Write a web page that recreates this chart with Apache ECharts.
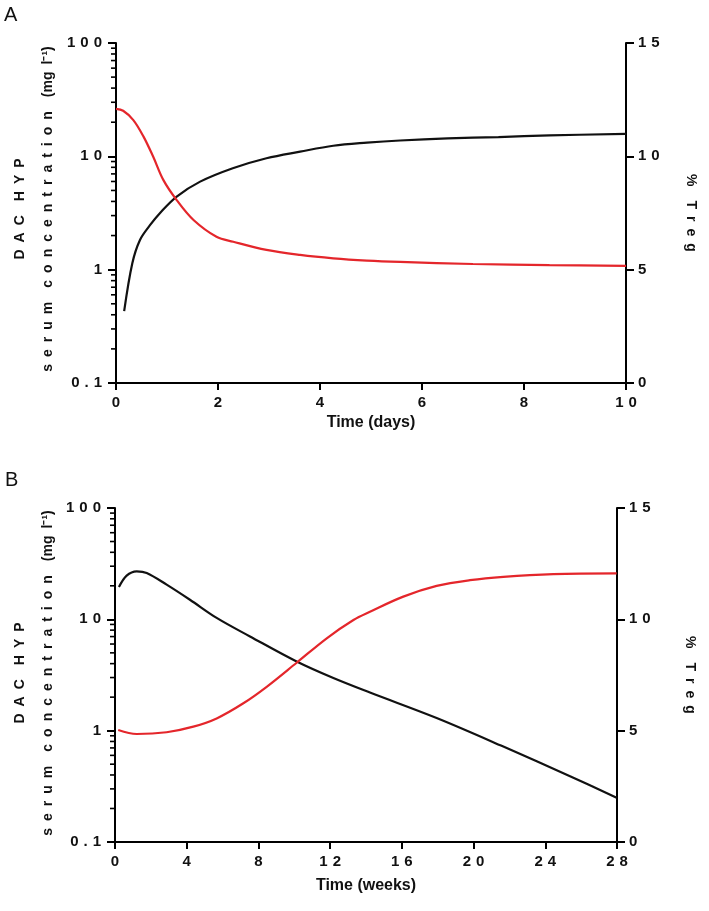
<!DOCTYPE html>
<html>
<head>
<meta charset="utf-8">
<script src="https://cdn.jsdelivr.net/npm/echarts@6/dist/echarts.min.js"></script>
<style>
html,body{margin:0;padding:0;background:#fff;}
#c{width:709px;height:911px;}
</style>
</head>
<body>
<div id="c"></div>
<script>
// ---- Panel A (days) ----
const daysBlack = [0.16, 0.32, 0.47, 0.67, 0.86, 1.19, 1.65, 2.29, 2.95, 3.61, 4.26, 4.92, 5.57, 6.5, 7.5, 8.5, 10];
const concA     = [0.43, 1.14, 1.83, 2.48, 3.15, 4.41, 5.98, 7.85, 9.62, 11.0, 12.4, 13.2, 13.8, 14.4, 14.8, 15.3, 15.8];
const daysRed   = [0, 0.14, 0.34, 0.54, 0.73, 0.93, 1.19, 1.52, 1.97, 2.3, 2.95, 3.61, 4.26, 4.92, 5.57, 7, 8.5, 10];
const tregA     = [12.09, 12.01, 11.6, 10.87, 9.98, 8.95, 8.07, 7.19, 6.45, 6.23, 5.87, 5.65, 5.5, 5.4, 5.34, 5.25, 5.2, 5.17];

// ---- Panel B (weeks) ----
const weeksBlack = [0.22, 0.65, 1.21, 1.77, 2.88, 4.18, 5.67, 7.53, 10.13, 12.18, 14.22, 17.94, 21.66, 25.38, 27.98];
const concB      = [19.5, 24.7, 27.0, 26.1, 20.5, 15.0, 10.3, 7.02, 4.18, 2.97, 2.2, 1.3, 0.72, 0.39, 0.25];
const weeksRed   = [0.18, 1.21, 2.88, 4.37, 5.67, 7.16, 8.46, 10.13, 11.81, 13.3, 14.22, 16.08, 17.94, 19.8, 21.66, 24.45, 27.98];
const tregB      = [5.03, 4.85, 4.93, 5.18, 5.55, 6.23, 6.97, 8.05, 9.15, 9.97, 10.34, 11.02, 11.5, 11.76, 11.91, 12.03, 12.06];

// ---- axis text ----
const panelLabels = ['A', 'B'];
const xNames = ['Time (days)', 'Time (weeks)'];
const leftName = 'D A C  H Y P\ns e r u m  c o n c e n t r a t i o n  (mg l⁻¹)';
const rightName = '%  T r e g';
const logMin = 0.1, logMax = 100;
const minorMults = [2, 3, 4, 5, 6, 7, 8, 9];
const minorTickValues = [];
[0.1, 1, 10].forEach(d => minorMults.forEach(m => minorTickValues.push(+(d * m).toPrecision(3))));

const FONT = '"Liberation Sans Narrow", "Liberation Sans", Arial, sans-serif';
const SP = '\u2002';
const TSP = '\u2004';
function spaced(s) { return String(s).split('').join(TSP); }
function spacedName(s) { return s.replace(/ /g, SP); }
function zip(xs, ys) { return xs.map((x, i) => [x, ys[i]]); }

const RED = '#e4262b', BLACK = '#111';

function xAxisCfg(gi, max, interval, name, gap) {
  return {
    type: 'value', gridIndex: gi, min: 0, max: max, interval: interval,
    name: name, nameLocation: 'middle', nameGap: gap,
    nameTextStyle: { fontFamily: FONT, fontWeight: 'bold', fontSize: 16, color: '#111' },
    axisLine: { onZero: false, lineStyle: { color: '#000', width: 2 } },
    axisTick: { length: 7, lineStyle: { color: '#000', width: 2 } },
    axisLabel: { margin: 12, fontFamily: FONT, fontWeight: 'bold', fontSize: 15, color: '#111',
      formatter: v => spaced(v) },
    splitLine: { show: false }
  };
}
function leftAxisCfg(gi) {
  return {
    type: 'log', logBase: 10, gridIndex: gi, min: logMin, max: logMax,
    axisLine: { show: true, lineStyle: { color: '#000', width: 2 } },
    axisTick: { length: 8, lineStyle: { color: '#000', width: 2 } },
    axisLabel: { margin: 14, fontFamily: FONT, fontWeight: 'bold', fontSize: 15, color: '#111',
      formatter: v => spaced(parseFloat(Number(v).toPrecision(4))) },
    splitLine: { show: false }
  };
}
function rightAxisCfg(gi, gap) {
  return {
    type: 'value', gridIndex: gi, position: 'right', min: 0, max: 15, interval: 5,
    name: spacedName(rightName), nameLocation: 'middle', nameGap: gap, nameRotate: -90,
    nameTextStyle: { fontFamily: FONT, fontWeight: 'bold', fontSize: 14, color: '#111' },
    axisLine: { show: true, lineStyle: { color: '#000', width: 2 } },
    axisTick: { length: 8, lineStyle: { color: '#000', width: 2 } },
    axisLabel: { margin: 12, fontFamily: FONT, fontWeight: 'bold', fontSize: 15, color: '#111',
      formatter: v => spaced(v) },
    splitLine: { show: false }
  };
}
function minorTickSeries(xi, yi) {
  return {
    type: 'custom', xAxisIndex: xi, yAxisIndex: yi, clip: false, silent: true, z: 5,
    data: minorTickValues.map(v => [0, v]),
    renderItem: function (params, api) {
      const p = api.coord([api.value(0), api.value(1)]);
      return { type: 'line', shape: { x1: p[0] - 5, y1: p[1], x2: p[0], y2: p[1] },
        style: { stroke: '#000', lineWidth: 1.6 } };
    }
  };
}
function lineSeries(xi, yi, data, color) {
  return {
    type: 'line', xAxisIndex: xi, yAxisIndex: yi, data: data, smooth: 0.35,
    showSymbol: false, symbol: 'none', z: 3,
    lineStyle: { color: color, width: 2.2 }
  };
}
function leftNameGraphic(cx, cy) {
  return { type: 'text', x: cx, y: cy, rotation: Math.PI / 2,
    style: { text: spacedName(leftName), fontFamily: FONT, fontWeight: 'bold', fontSize: 14,
      fill: '#111', lineHeight: 28, align: 'center', verticalAlign: 'middle' } };
}

const chart = echarts.init(document.getElementById('c'), null, { renderer: 'canvas' });
chart.setOption({
  backgroundColor: '#fff',
  animation: false,
  graphic: [
    { type: 'text', left: 4, top: 5, style: { text: panelLabels[0], fontFamily: '"Liberation Sans", Arial', fontSize: 20, fill: '#111' } },
    { type: 'text', left: 5, top: 470, style: { text: panelLabels[1], fontFamily: '"Liberation Sans", Arial', fontSize: 20, fill: '#111' } },
    leftNameGraphic(34, 209),
    leftNameGraphic(34, 673)
  ],
  grid: [
    { left: 116, top: 43, width: 510, height: 340, containLabel: false, outerBoundsMode: 'none' },
    { left: 115, top: 508, width: 502, height: 334, containLabel: false, outerBoundsMode: 'none' }
  ],
  xAxis: [
    xAxisCfg(0, 10, 2, xNames[0], 32),
    xAxisCfg(1, 28, 4, xNames[1], 36)
  ],
  yAxis: [
    leftAxisCfg(0),
    rightAxisCfg(0, 58),
    leftAxisCfg(1),
    rightAxisCfg(1, 66)
  ],
  series: [
    lineSeries(0, 0, zip(daysBlack, concA), BLACK),
    lineSeries(0, 1, zip(daysRed, tregA), RED),
    lineSeries(1, 2, zip(weeksBlack, concB), BLACK),
    lineSeries(1, 3, zip(weeksRed, tregB), RED),
    minorTickSeries(0, 0),
    minorTickSeries(1, 2)
  ]
});
</script>
</body>
</html>
